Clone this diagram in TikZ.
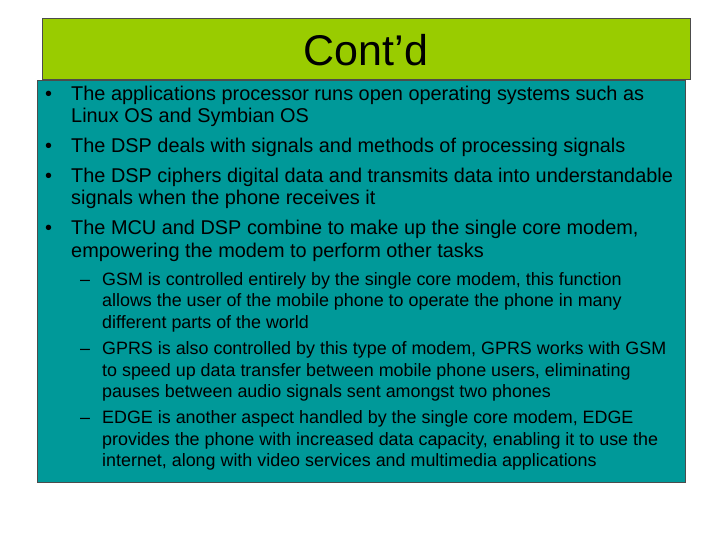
\documentclass[tikz,border=0pt]{standalone}
\usepackage{fontspec}
\setmainfont{Liberation Sans}
\definecolor{tgreen}{HTML}{99CC00}
\definecolor{tteal}{HTML}{009999}
\begin{document}
\begin{tikzpicture}[x=1pt,y=-1pt,
  L/.style={anchor=base west,inner sep=0pt,font=\fontsize{19.9}{22}\selectfont},
  S/.style={anchor=base west,inner sep=0pt,font=\fontsize{17.9}{20}\selectfont}]
\useasboundingbox (0,0) rectangle (720,540);
\node[draw=black!70,fill=tgreen,minimum width=648pt,minimum height=61pt,anchor=north west,inner sep=0pt] (title) at (42,18) {};
\node[font=\fontsize{43}{48}\selectfont] (tt) at (366,50) {Cont’d};
\node[draw=black!70,fill=tteal,minimum width=648pt,minimum height=402pt,anchor=north west,inner sep=0pt] (body) at (37,80) {};
\foreach \y/\t [count=\i] in {101/The applications processor runs open operating systems such as,123/Linux OS and Symbian OS,153/The DSP deals with signals and methods of processing signals,183/The DSP ciphers digital data and transmits data into understandable,205/signals when the phone receives it,235/{The MCU and DSP combine to make up the single core modem,},258/{empowering the modem to perform other tasks}}
  \node[L] (l\i) at (71,\y) {\t};
\foreach \y [count=\i] in {101,153,183,235} \node[L] (b\i) at (45,\y) {•};
\foreach \y/\t [count=\i] in {285/{GSM is controlled entirely by the single core modem, this function},306/allows the user of the mobile phone to operate the phone in many,328/different parts of the world,354/{GPRS is also controlled by this type of modem, GPRS works with GSM},376/{to speed up data transfer between mobile phone users, eliminating},397/pauses between audio signals sent amongst two phones,423/{EDGE is another aspect handled by the single core modem, EDGE},445/{provides the phone with increased data capacity, enabling it to use the},466/{internet, along with video services and multimedia applications}}
  \node[S] (s\i) at (102,\y) {\t};
\foreach \y [count=\i] in {285,354,423} \node[S] (d\i) at (80,\y) {–};
\end{tikzpicture}
\end{document}
